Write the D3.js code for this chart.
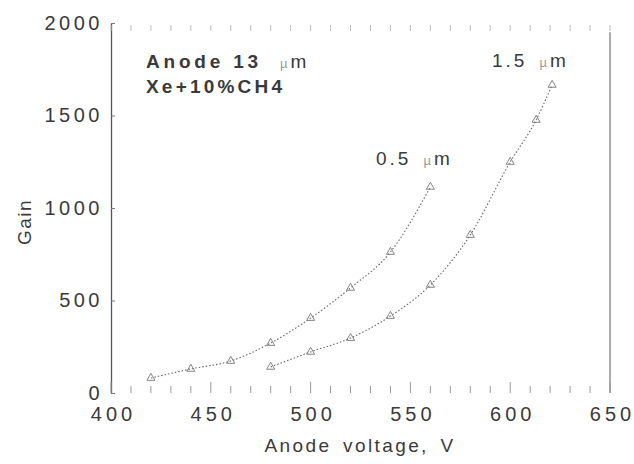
<!DOCTYPE html>
<html>
<head>
<meta charset="utf-8">
<script src="https://cdn.jsdelivr.net/npm/d3@7"></script>
<style>
  body { margin: 0; background: #fff; }
  svg { font-family: Arial, "Liberation Sans", sans-serif; }
</style>
</head>
<body>
<div id="vis"></div>
<script>
// data
const volt05 = [420, 440, 460, 480, 500, 520, 540, 560]
const gain05 = [81, 130, 173, 270, 405, 568, 762, 1114]
const volt15 = [480, 500, 520, 540, 560, 580, 600, 613, 621]
const gain15 = [141, 222, 297, 416, 584, 854, 1249, 1476, 1665]
const yTicks = [0, 500, 1000, 1500, 2000]
const xTicks = [400, 450, 500, 550, 600, 650]

const W = 634, H = 464
const x = d3.scaleLinear().domain([400, 650]).range([111, 610])
const y = d3.scaleLinear().domain([0, 2000]).range([393, 23])

var svg = d3.select("#vis")
  .append("svg")
  .attr("width", W)
  .attr("height", H)

const ink = "#3a3a3a"

// left axis
const yAxis = svg.append("g")
  .attr("transform", "translate(" + x(400) + ",0)")
  .call(d3.axisLeft(y).tickValues(yTicks).tickFormat(d3.format("d"))
    .tickSizeInner(-4).tickSizeOuter(0).tickPadding(8))
yAxis.select(".domain").attr("stroke", "#555").attr("stroke-width", 1.3)
yAxis.selectAll(".tick line").attr("stroke", "#777")
yAxis.selectAll("text")
  .attr("fill", ink).style("font-size", "20px").style("letter-spacing", "3.5px")

// right frame line
svg.append("line")
  .attr("x1", x(650)).attr("x2", x(650))
  .attr("y1", y(1950)).attr("y2", y(0))
  .attr("stroke", "#666").attr("stroke-width", 1.1)

// minor ticks top and bottom, every 10 V
const minor = d3.range(400, 651, 10)
svg.append("g").selectAll("line")
  .data(minor).enter().append("line")
  .attr("x1", d => x(d)).attr("x2", d => x(d))
  .attr("y1", y(0)).attr("y2", d => d % 50 === 0 ? y(0) - 11 : y(0) - 7)
  .attr("stroke", "#999").attr("stroke-width", 1)
svg.append("g").selectAll("line")
  .data(minor).enter().append("line")
  .attr("x1", d => x(d)).attr("x2", d => x(d))
  .attr("y1", y(2000) + 2).attr("y2", y(2000) + 8)
  .attr("stroke", "#bbb").attr("stroke-width", 1)

// bottom axis labels
const xAxis = svg.append("g")
  .attr("transform", "translate(0," + y(0) + ")")
  .call(d3.axisBottom(x).tickValues(xTicks).tickSize(0).tickPadding(14))
xAxis.select(".domain").remove()
xAxis.selectAll("text")
  .attr("fill", ink).attr("dx", "2px")
  .style("font-size", "20px").style("letter-spacing", "4px")

// axis titles
svg.append("text")
  .attr("x", 360).attr("y", 452)
  .attr("text-anchor", "middle")
  .attr("fill", ink)
  .style("font-size", "19px").style("letter-spacing", "2.4px").style("word-spacing", "4px")
  .text("Anode voltage, V")
svg.append("text")
  .attr("transform", "translate(31,222) rotate(-90)")
  .attr("text-anchor", "middle")
  .attr("fill", ink)
  .style("font-size", "19px").style("letter-spacing", "1.5px")
  .text("Gain")

// curves
const line = d3.line()
  .x(d => x(d[0])).y(d => y(d[1]))
  .curve(d3.curveMonotoneX)

const series = [
  d3.zip(volt05, gain05),
  d3.zip(volt15, gain15)
]

series.forEach(pts => {
  svg.append("path")
    .datum(pts)
    .attr("d", line)
    .attr("fill", "none")
    .attr("stroke", "#666")
    .attr("stroke-width", 1.1)
    .attr("stroke-dasharray", "1.5,2")
  svg.append("g").selectAll("path")
    .data(pts).enter().append("path")
    .attr("d", d3.symbol().type(d3.symbolTriangle).size(28))
    .attr("transform", d => "translate(" + x(d[0]) + "," + y(d[1]) + ")")
    .attr("fill", "none")
    .attr("stroke", "#777")
    .attr("stroke-width", 0.9)
})

// annotations
function micro(num, px, py, gap, bold) {
  const txt = svg.append("text")
    .attr("x", px).attr("y", py)
    .attr("fill", ink)
    .style("font-size", "19px").style("letter-spacing", "3px")
  txt.append("tspan").style("font-weight", bold ? "bold" : "normal")
    .style("letter-spacing", bold ? "3.8px" : "3px").text(num)
  txt.append("tspan").attr("dx", gap).attr("fill", "#999").style("font-size", "13px").text("µ")
  txt.append("tspan").attr("dx", 0).text("m")
}
micro("Anode 13", 146, 68, 18, true)
svg.append("text")
  .attr("x", 146).attr("y", 93)
  .attr("fill", ink)
  .style("font-size", "19px").style("letter-spacing", "3.2px").style("font-weight", "bold")
  .text("Xe+10%CH4")
micro("0.5", 376, 165, 12, false)
micro("1.5", 492, 67, 12, false)
</script>
</body>
</html>
